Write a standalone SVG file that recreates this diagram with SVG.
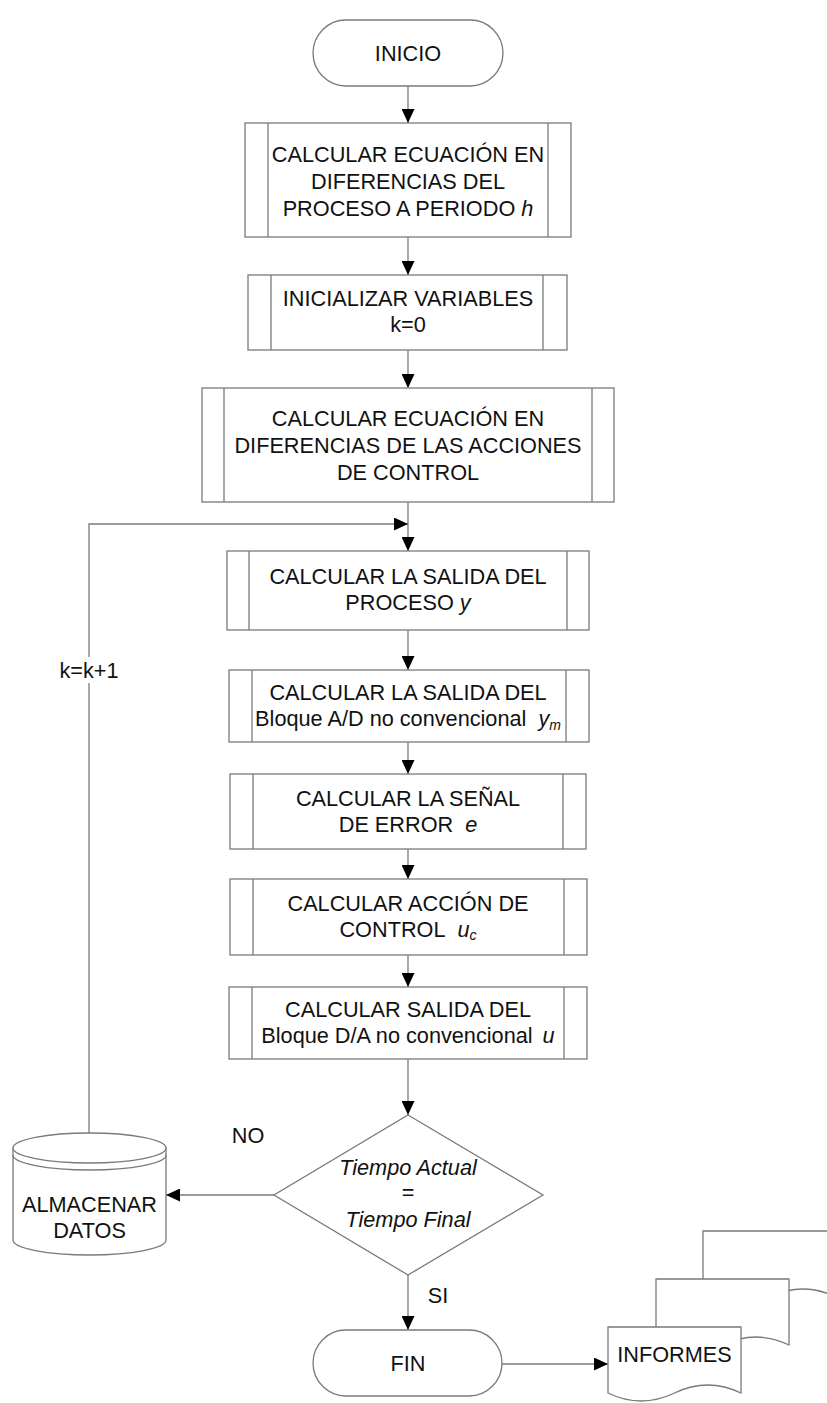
<svg xmlns="http://www.w3.org/2000/svg" width="827" height="1403" viewBox="0 0 827 1403">
<style>
.n{fill:#fff;stroke:#7a7a7a;stroke-width:1.3}
.c{fill:none;stroke:#7a7a7a;stroke-width:1.3}
.t{font-family:"Liberation Sans",Arial,sans-serif;font-size:21.7px;fill:#111;text-anchor:middle}
.i{font-style:italic}
.s{font-size:14px;font-style:italic}
</style>
<defs>
<marker id="ah" viewBox="0 0 14 13" refX="14" refY="6.5" markerWidth="14" markerHeight="13" markerUnits="userSpaceOnUse" orient="auto">
<path d="M0,0 L14,6.5 L0,13 z" fill="#000"/>
</marker>
</defs>
<rect width="827" height="1403" fill="#fff"/>

<g id="connectors">
<path class="c" d="M408,86 V123" marker-end="url(#ah)"/>
<path class="c" d="M408,237 V275" marker-end="url(#ah)"/>
<path class="c" d="M408,350 V388" marker-end="url(#ah)"/>
<path class="c" d="M408,502 V551" marker-end="url(#ah)"/>
<path class="c" d="M89,1133 V524 H408" marker-end="url(#ah)"/>
<path class="c" d="M408,630 V670" marker-end="url(#ah)"/>
<path class="c" d="M408,742 V774" marker-end="url(#ah)"/>
<path class="c" d="M408,849 V879" marker-end="url(#ah)"/>
<path class="c" d="M408,955 V987" marker-end="url(#ah)"/>
<path class="c" d="M408,1059 V1115" marker-end="url(#ah)"/>
<path class="c" d="M274,1195 H166" marker-end="url(#ah)"/>
<path class="c" d="M408,1275 V1330" marker-end="url(#ah)"/>
<path class="c" d="M502,1364 H608" marker-end="url(#ah)"/>
<rect x="58" y="657" width="62" height="26" fill="#fff"/>
<text class="t" x="89" y="677.5">k=k+1</text>
<text class="t" x="248" y="1142.5">NO</text>
<text class="t" x="438" y="1302.5">SI</text>
</g>

<g id="inicio">
<rect class="n" x="313" y="20" width="190" height="66" rx="33" ry="33"/>
<text class="t" x="408" y="60.5">INICIO</text>
</g>

<g id="box1">
<rect class="n" x="245" y="123" width="326" height="114"/>
<path class="c" d="M268,123 V237 M548,123 V237"/>
<text class="t" x="408" y="162">CALCULAR ECUACIÓN EN</text>
<text class="t" x="408" y="189">DIFERENCIAS DEL</text>
<text class="t" x="408" y="216">PROCESO A PERIODO <tspan class="i">h</tspan></text>
</g>

<g id="box2">
<rect class="n" x="248" y="275" width="319" height="75"/>
<path class="c" d="M271,275 V350 M543,275 V350"/>
<text class="t" x="408" y="306">INICIALIZAR VARIABLES</text>
<text class="t" x="408" y="332">k=0</text>
</g>

<g id="box3">
<rect class="n" x="202" y="388" width="412" height="114"/>
<path class="c" d="M224,388 V502 M592,388 V502"/>
<text class="t" x="408" y="426">CALCULAR ECUACIÓN EN</text>
<text class="t" x="408" y="453">DIFERENCIAS DE LAS ACCIONES</text>
<text class="t" x="408" y="480">DE CONTROL</text>
</g>

<g id="box4">
<rect class="n" x="227" y="551" width="362" height="79"/>
<path class="c" d="M249,551 V630 M567,551 V630"/>
<text class="t" x="408" y="584">CALCULAR LA SALIDA DEL</text>
<text class="t" x="408" y="610">PROCESO <tspan class="i">y</tspan></text>
</g>

<g id="box5">
<rect class="n" x="229" y="670" width="360" height="72"/>
<path class="c" d="M252,670 V742 M566,670 V742"/>
<text class="t" x="408" y="700">CALCULAR LA SALIDA DEL</text>
<text class="t" x="408" y="726">Bloque A/D no convencional<tspan class="i" dx="12">y</tspan><tspan class="s" dy="4">m</tspan></text>
</g>

<g id="box6">
<rect class="n" x="230" y="774" width="356" height="75"/>
<path class="c" d="M253,774 V849 M563,774 V849"/>
<text class="t" x="408" y="805.5">CALCULAR LA SEÑAL</text>
<text class="t" x="408" y="831.5">DE ERROR<tspan class="i" dx="12">e</tspan></text>
</g>

<g id="box7">
<rect class="n" x="230" y="879" width="357" height="76"/>
<path class="c" d="M253,879 V955 M564,879 V955"/>
<text class="t" x="408" y="911">CALCULAR ACCIÓN DE</text>
<text class="t" x="408" y="937">CONTROL<tspan class="i" dx="12">u</tspan><tspan class="s" dy="3">c</tspan></text>
</g>

<g id="box8">
<rect class="n" x="229" y="987" width="358" height="72"/>
<path class="c" d="M252,987 V1059 M564,987 V1059"/>
<text class="t" x="408" y="1017">CALCULAR SALIDA DEL</text>
<text class="t" x="408" y="1043">Bloque D/A no convencional<tspan class="i" dx="10">u</tspan></text>
</g>

<g id="decision">
<path class="n" d="M408,1115 L543,1195 L408,1275 L274,1195 Z"/>
<text class="t i" x="408" y="1175">Tiempo Actual</text>
<text class="t" x="408" y="1200">=</text>
<text class="t i" x="408" y="1227">Tiempo Final</text>
</g>

<g id="almacenar">
<path class="n" d="M13,1148 V1240 A76.5,15 0 0 0 166,1240 V1148 Z"/>
<ellipse class="n" cx="89.5" cy="1148" rx="76.5" ry="15"/>
<path class="c" d="M13,1155 A76.5,15 0 0 0 166,1155"/>
<text class="t" x="89.5" y="1212">ALMACENAR</text>
<text class="t" x="89.5" y="1238">DATOS</text>
</g>

<g id="fin">
<rect class="n" x="313" y="1330" width="189" height="66" rx="33" ry="33"/>
<text class="t" x="408" y="1370.5">FIN</text>
</g>

<g id="informes">
<path class="n" d="M703,1231 H836 V1297 Q802.75,1281 769.5,1297 Q736,1313 703,1297 Z"/>
<path class="n" d="M656,1279 H789 V1345 Q755.75,1329 722.5,1345 Q689,1361 656,1345 Z"/>
<path class="n" d="M608,1327 H741 V1393 Q707.75,1377 674.5,1393 Q641,1409 608,1393 Z"/>
<text class="t" x="674.5" y="1362">INFORMES</text>
</g>
</svg>
